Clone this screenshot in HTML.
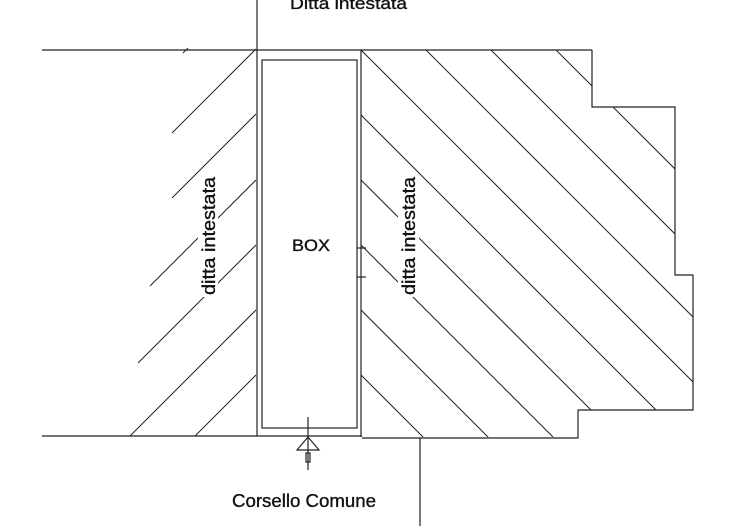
<!DOCTYPE html>
<html><head><meta charset="utf-8"><style>
html,body{margin:0;padding:0;background:#fff;overflow:hidden;width:740px;height:526px;}
svg{display:block;position:absolute;left:0;top:0;}
text{font-family:"Liberation Sans",Arial,sans-serif;fill:#111;stroke:#111;stroke-width:0.35;}
</style></head><body>
<svg width="740" height="526" viewBox="0 0 740 526" xmlns="http://www.w3.org/2000/svg">
<defs>
<clipPath id="rc"><polygon points="361,50 592,50 592,107 675,107 675,275 693,275 693,410 578,410 578,437 361,437"/></clipPath>
</defs>
<g stroke="#222" stroke-width="1.2" fill="none">
<line x1="42" y1="50" x2="592" y2="50"/>
<polyline points="592,50 592,107 675,107 675,275 693,275 693,410 578,410 578,438 362,438"/>
<line x1="42" y1="436" x2="362" y2="436"/>
<line x1="257" y1="0" x2="257" y2="436"/>
<line x1="361" y1="50" x2="361" y2="437"/>
<line x1="420" y1="438" x2="420" y2="526"/>
<rect x="262" y="60" width="95" height="368"/>
<line x1="357" y1="248" x2="366" y2="248"/>
<line x1="357" y1="277" x2="366" y2="277"/>
<g clip-path="url(#rc)" stroke-width="1">
<line x1="300" y1="-206" x2="800" y2="294"/>
<line x1="300" y1="-141" x2="800" y2="359"/>
<line x1="300" y1="-76" x2="800" y2="424"/>
<line x1="300" y1="-11" x2="800" y2="489"/>
<line x1="300" y1="54" x2="800" y2="554"/>
<line x1="300" y1="119" x2="800" y2="619"/>
<line x1="300" y1="184" x2="800" y2="684"/>
<line x1="300" y1="249" x2="800" y2="749"/>
<line x1="300" y1="314" x2="800" y2="814"/>
<line x1="300" y1="379" x2="800" y2="879"/>
</g>
<g stroke-width="1">
<line x1="188" y1="48" x2="183" y2="53"/>
<line x1="256" y1="49" x2="172" y2="133"/>
<line x1="256" y1="114" x2="172" y2="198"/>
<line x1="256" y1="180" x2="150" y2="286"/>
<line x1="256" y1="245" x2="138" y2="363"/>
<line x1="256" y1="310" x2="130" y2="436"/>
<line x1="256" y1="375" x2="195" y2="436"/>
</g>
<line x1="308" y1="417" x2="308" y2="470"/>
<polygon points="308,437 297,450 319,450"/>
<rect x="306" y="453" width="4" height="9"/>
</g>
<rect x="198" y="177" width="20" height="120" fill="#fff"/>
<rect x="398" y="177" width="21" height="120" fill="#fff"/>
<text x="290" y="9" font-size="17" textLength="117" lengthAdjust="spacingAndGlyphs">Ditta intestata</text>
<text x="292" y="251" font-size="17" textLength="38" lengthAdjust="spacingAndGlyphs">BOX</text>
<text x="232" y="507" font-size="18" textLength="144" lengthAdjust="spacingAndGlyphs">Corsello Comune</text>
<text transform="translate(215,295) rotate(-90)" font-size="18" textLength="118" lengthAdjust="spacingAndGlyphs">ditta intestata</text>
<text transform="translate(415,295) rotate(-90)" font-size="18" textLength="118" lengthAdjust="spacingAndGlyphs">ditta intestata</text>
</svg>
</body></html>
